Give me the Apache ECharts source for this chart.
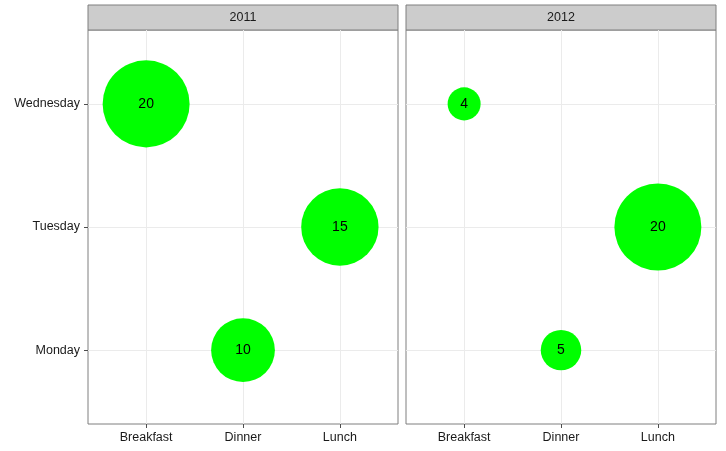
<!DOCTYPE html>
<html><head><meta charset="utf-8">
<script src="https://cdn.jsdelivr.net/npm/echarts@6/dist/echarts.min.js"></script>
<style>html,body{margin:0;padding:0;background:#fff}#c{width:726px;height:451px}</style>
</head><body><div id="c"></div>
<script>
const years = ['2011', '2012'];
const meals = ['Breakfast', 'Dinner', 'Lunch'];
const days = ['Monday', 'Tuesday', 'Wednesday'];
const meal2011 = ['Breakfast', 'Dinner', 'Lunch'];
const day2011 = ['Wednesday', 'Monday', 'Tuesday'];
const count2011 = [20, 10, 15];
const meal2012 = ['Breakfast', 'Dinner', 'Lunch'];
const day2012 = ['Wednesday', 'Monday', 'Tuesday'];
const count2012 = [4, 5, 20];

(function () {
const FONT = 'Liberation Sans, Arial, sans-serif';
const panels = [
  {left: 88, width: 310},
  {left: 406, width: 310}
];
const gTop = 30, gHeight = 394;

function pts(ms, ds, cs) {
  return ms.map((m, i) => [meals.indexOf(m) + 1, days.indexOf(ds[i]) + 1, cs[i]]);
}
const seriesData = [pts(meal2011, day2011, count2011), pts(meal2012, day2012, count2012)];

const grid = panels.map(p => ({left: p.left, top: gTop, width: p.width, height: gHeight,
  show: true, borderColor: '#7f7f7f', borderWidth: 1, backgroundColor: '#fff', containLabel: false}));

const xAxis = panels.map((p, i) => ({
  type: 'value', gridIndex: i, min: 0.4, max: 3.6,
  axisLine: {show: false},
  axisTick: {show: true, length: 4, customValues: [1, 2, 3], lineStyle: {color: '#4d4d4d'}},
  axisLabel: {show: true, customValues: [1, 2, 3], margin: 7, color: '#1a1a1a', fontSize: 12.5, fontFamily: FONT,
    formatter: v => meals[Math.round(v) - 1]},
  splitLine: {show: true, lineStyle: {color: '#ebebeb', width: 1}}
}));
const yAxis = panels.map((p, i) => ({
  type: 'value', gridIndex: i, min: 0.4, max: 3.6,
  axisLine: {show: false},
  axisTick: {show: i === 0, length: 4, customValues: [1, 2, 3], lineStyle: {color: '#4d4d4d'}},
  axisLabel: {show: i === 0, customValues: [1, 2, 3], margin: 8, color: '#1a1a1a', fontSize: 12.5, fontFamily: FONT,
    formatter: v => days[Math.round(v) - 1]},
  splitLine: {show: true, lineStyle: {color: '#ebebeb', width: 1}}
}));

const series = seriesData.map((d, i) => ({
  type: 'scatter', xAxisIndex: i, yAxisIndex: i, data: d,
  symbolSize: v => 33.55 * Math.log(v[2]) - 13.5,
  itemStyle: {color: '#00ff00', opacity: 1},
  label: {show: true, position: 'inside', formatter: p => p.value[2], color: '#000', fontSize: 14, fontFamily: FONT},
  emphasis: {disabled: true},
  silent: true
}));

const graphic = panels.map((p, i) => ({
  type: 'group', children: [
    {type: 'rect', shape: {x: p.left, y: 5, width: p.width, height: 25},
     style: {fill: '#cccccc', stroke: '#7f7f7f', lineWidth: 1}},
    {type: 'text', x: p.left + p.width / 2, y: 18,
     style: {text: years[i], fill: '#1a1a1a', fontSize: 12.5, fontFamily: FONT, align: 'center', verticalAlign: 'middle'}}
  ]
}));

const chart = echarts.init(document.getElementById('c'), null, {renderer: 'canvas'});
chart.setOption({animation: false, grid, xAxis, yAxis, series, graphic});
})();
</script></body></html>
